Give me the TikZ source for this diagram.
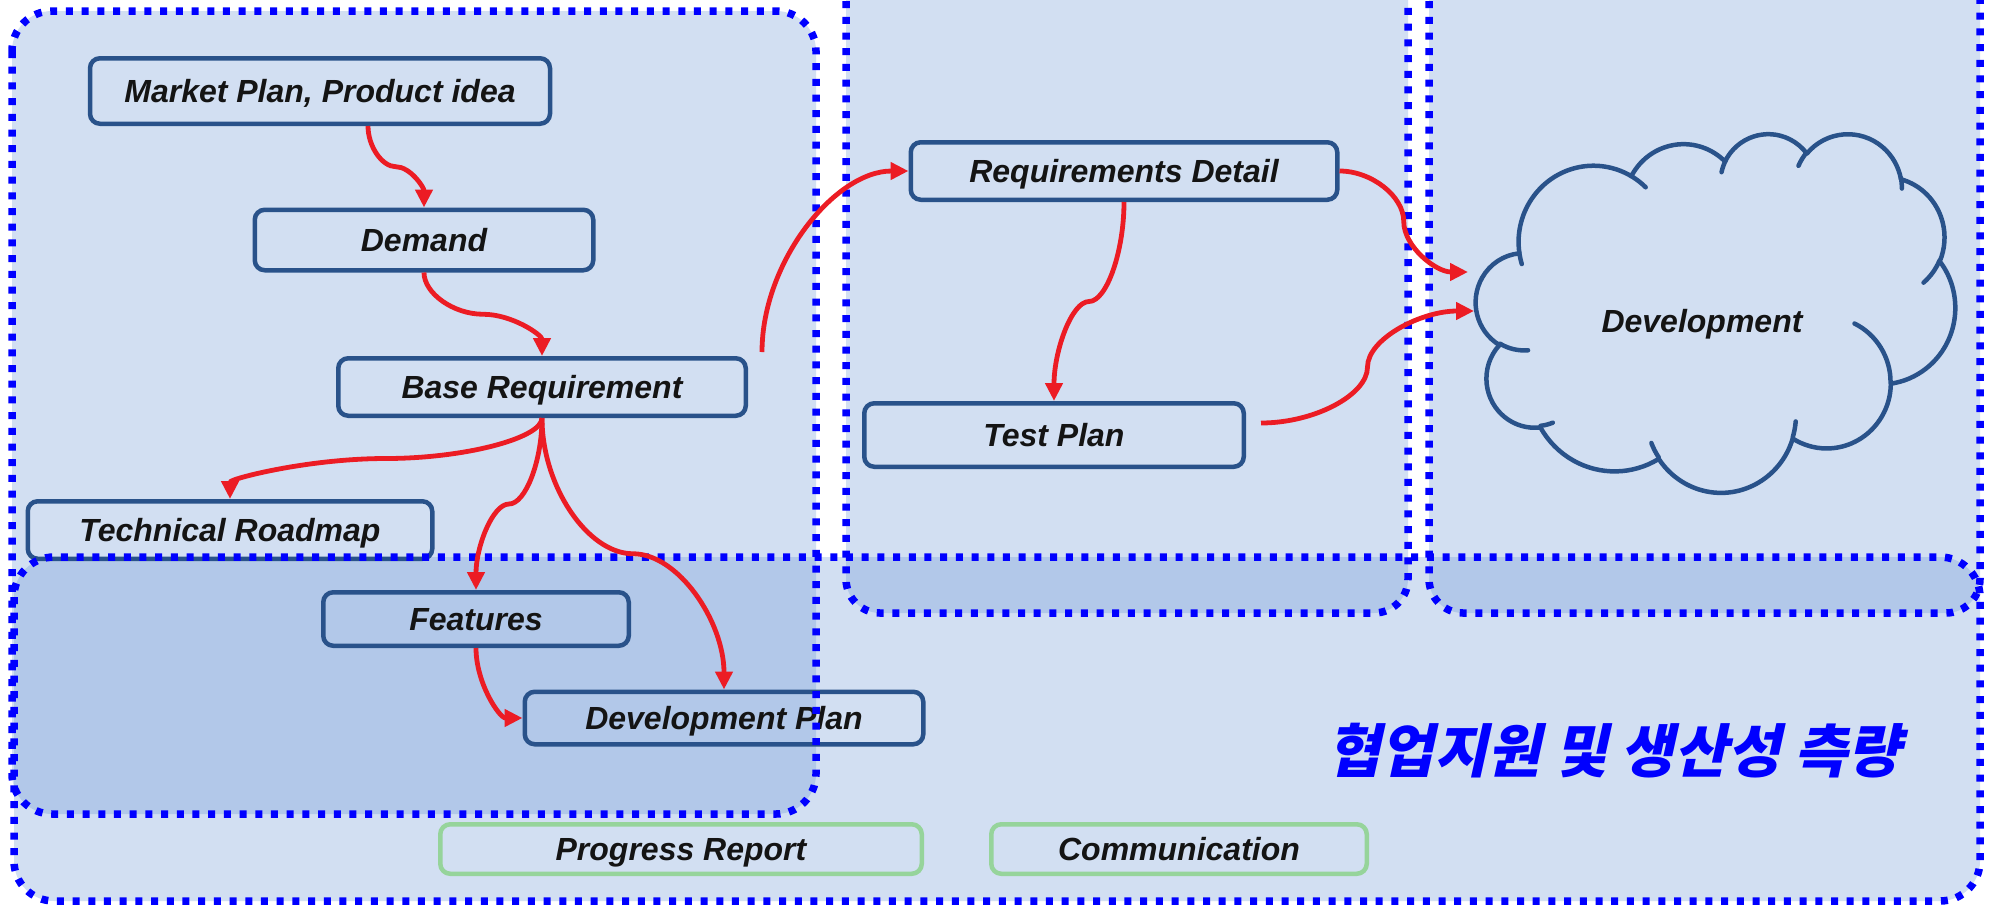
\documentclass[tikz,border=0pt]{standalone}
\usepackage{fontspec}
\setmainfont{Liberation Sans}
\newfontfamily\krfont{Noto Sans CJK KR}[FakeSlant=0.22,BoldFeatures={FakeSlant=0.22}]
\usetikzlibrary{calc,arrows.meta}

\definecolor{boxblue}{RGB}{41,82,138}
\definecolor{flowred}{RGB}{236,28,36}
\definecolor{laneblue}{RGB}{0,0,255}
\definecolor{lanetint}{RGB}{92,140,210}
\definecolor{commgreen}{RGB}{150,212,155}
\definecolor{txt}{RGB}{20,20,20}

\tikzset{
  stagebox/.style={draw=boxblue, line width=2.25pt, rounded corners=5pt, inner sep=0pt,
    font=\fontsize{16}{19}\selectfont\bfseries\itshape, text=txt,
    text height=11.5pt, text depth=0pt},
  commbox/.style={stagebox, draw=commgreen},
  lanefill/.style={fill=lanetint, fill opacity=0.27},
  laneedge/.style={draw=laneblue, line width=3.75pt, dash pattern=on 3.5pt off 4.35pt},
  flowline/.style={draw=flowred, line width=2.4pt, -{Triangle[length=9pt,width=8.5pt]}},
  cloudline/.style={draw=boxblue, line width=2.25pt, line join=round, line cap=round},
}

% elliptic arc given by start/sweep of the visual angle
\newcommand\cloudarc[4]{arc[x radius=#1, y radius=#2,
  start angle={atan2((#1)*sin(#3),(#2)*cos(#3))},
  delta angle={mod(atan2((#1)*sin((#3)+(#4)),(#2)*cos((#3)+(#4)))-atan2((#1)*sin(#3),(#2)*cos(#3))+720,360)}]}

% S-shaped connector, vertical at both ends
\newcommand\vsnake[2]{%
  \path ($(#1)!0.25!(#2)$) coordinate (q1) ($(#1)!0.5!(#2)$) coordinate (qm) ($(#1)!0.75!(#2)$) coordinate (q3);
  \draw[flowline] (#1) .. controls (#1 |- q1) and (q1 |- qm) .. (qm) .. controls (q3 |- qm) and (#2 |- q3) .. (#2);}
% S-shaped connector, horizontal at both ends
\newcommand\hsnake[2]{%
  \path ($(#1)!0.25!(#2)$) coordinate (q1) ($(#1)!0.5!(#2)$) coordinate (qm) ($(#1)!0.75!(#2)$) coordinate (q3);
  \draw[flowline] (#1) .. controls (q1 |- #1) and (qm |- q1) .. (qm) .. controls (qm |- q3) and (q3 |- #2) .. (#2);}
% single bend: leaves vertically, arrives horizontally
\newcommand\bendto[2]{%
  \path ($(#1)!0.5!(#2)$) coordinate (qm);
  \draw[flowline] (#1) .. controls (#1 |- qm) and (qm |- #2) .. (#2);}

\begin{document}
\begin{tikzpicture}[x=0.5pt, y=-0.5pt]
\useasboundingbox (0,0) rectangle (1991,905);
\fill[white] (0,0) rectangle (1991,905);
\clip (0,0) rectangle (1991,905);

% lane tints
\path[lanefill, rounded corners=20pt] (12,11) rectangle (816,814);
\path[lanefill, rounded corners=17pt] (846,-80) rectangle (1408,613);
\path[lanefill, rounded corners=17pt] (1429,-80) rectangle (1980,613);
\path[lanefill, rounded corners=20pt] (14,557) rectangle (1980,901);

% development cloud
\begin{scope}[shift={(1476,133)}, xscale=1.109, yscale=0.83]
  \draw[cloudline] (39.00,143.70)
    \cloudarc{67.53}{91.90}{-190.4875}{123.7805}
    \cloudarc{53.33}{72.67}{-144.1024}{89.9452}
    \cloudarc{43.65}{59.45}{-145.8079}{99.7230}
    \cloudarc{48.57}{65.95}{-130.9861}{117.2417}
    \cloudarc{53.33}{72.73}{-78.7089}{109.0269}
    \cloudarc{67.75}{92.20}{-46.2673}{130.2690}
    \cloudarc{57.85}{78.67}{0.6250}{114.0333}
    \cloudarc{67.52}{92.15}{22.4516}{115.1726}
    \cloudarc{77.20}{105.43}{66.2426}{75.7110}
    \cloudarc{43.60}{59.18}{-274.9421}{146.7356}
    \cloudarc{43.45}{59.45}{-246.8285}{152.5189}
    -- cycle;
  \draw[cloudline]
    (46.93,261.77) \cloudarc{43.45}{59.45}{86.7420}{26.4295}
    (69.28,348.99) \cloudarc{43.60}{59.18}{73.6105}{11.4475}
    (164.78,390.90) \cloudarc{67.52}{92.15}{137.6242}{14.0811}
    (288.27,347.51) \cloudarc{67.52}{92.15}{6.4533}{15.9984}
    (341.29,229.54) \cloudarc{57.85}{78.67}{-70.2924}{70.9174}
    (417.98,153.54) \cloudarc{53.33}{72.73}{30.3180}{27.7515}
    (383.24,54.26) \cloudarc{48.57}{65.95}{-13.7443}{14.8589}
    (290.78,39.52) \cloudarc{48.57}{65.95}{-149.1815}{18.1954}
    (221.41,47.20) \cloudarc{43.65}{59.45}{-163.4943}{17.6864}
    (140.00,51.92) \cloudarc{67.53}{91.90}{-66.7070}{12.3194}
    (41.27,157.89) \cloudarc{67.53}{91.90}{157.6544}{11.8582};
\end{scope}
\node[font=\fontsize{16}{19}\selectfont\bfseries\itshape, text=txt] (devtxt) at (1702,324) {Development};

% stage boxes
\node[stagebox, minimum width=230pt, minimum height=32.75pt] (mkt) at (320,91) {Market Plan, Product idea};
\node[stagebox, minimum width=169.25pt, minimum height=30.25pt] (dem) at (424,240) {Demand};
\node[stagebox, minimum width=203.75pt, minimum height=28.75pt] (base) at (542,387) {Base Requirement};
\node[stagebox, minimum width=202.25pt, minimum height=28.75pt] (tech) at (230,530) {Technical Roadmap};
\node[stagebox, minimum width=152.75pt, minimum height=26.75pt] (feat) at (476,619) {Features};
\node[stagebox, minimum width=199.25pt, minimum height=26.25pt] (devp) at (724,718) {Development Plan};
\node[stagebox, minimum width=213.25pt, minimum height=28.75pt] (reqd) at (1124,171) {Requirements Detail};
\node[stagebox, minimum width=189.75pt, minimum height=31.75pt] (test) at (1054,435) {Test Plan};
\node[commbox, minimum width=240.75pt, minimum height=24.75pt] (prog) at (681,849) {Progress Report};
\node[commbox, minimum width=187.75pt, minimum height=24.75pt] (comm) at (1179,849) {Communication};

\node[font={\krfont\fontsize{29}{34}\selectfont\bfseries}, text=laneblue] (lanetitle) at (1614,751) {협업지원 및 생산성 측량};

% lane borders
\path[laneedge, rounded corners=20pt] (12,11) rectangle (816,814);
\path[laneedge, rounded corners=17pt] (846,-80) rectangle (1408,613);
\path[laneedge, rounded corners=17pt] (1429,-80) rectangle (1980,613);
\path[laneedge, rounded corners=20pt] (14,557) rectangle (1980,901);

% flow connectors
\coordinate (m0) at ([xshift=24pt]mkt.south);
\vsnake{m0}{dem.north}
\vsnake{dem.south}{base.north}
\vsnake{base.south}{tech.north}
\vsnake{base.south}{feat.north}
\vsnake{base.south}{devp.north}
\bendto{feat.south}{devp.west}
\coordinate (b0) at ([shift={(14,-4)}]base.north east);
\bendto{b0}{reqd.west}
\vsnake{reqd.south}{test.north}
\coordinate (t0) at ([shift={(15,-12)}]test.east);
\coordinate (devinA) at (1468,272);
\coordinate (devinB) at (1474,311);
\hsnake{reqd.east}{devinA}
\hsnake{t0}{devinB}
\end{tikzpicture}
\end{document}
